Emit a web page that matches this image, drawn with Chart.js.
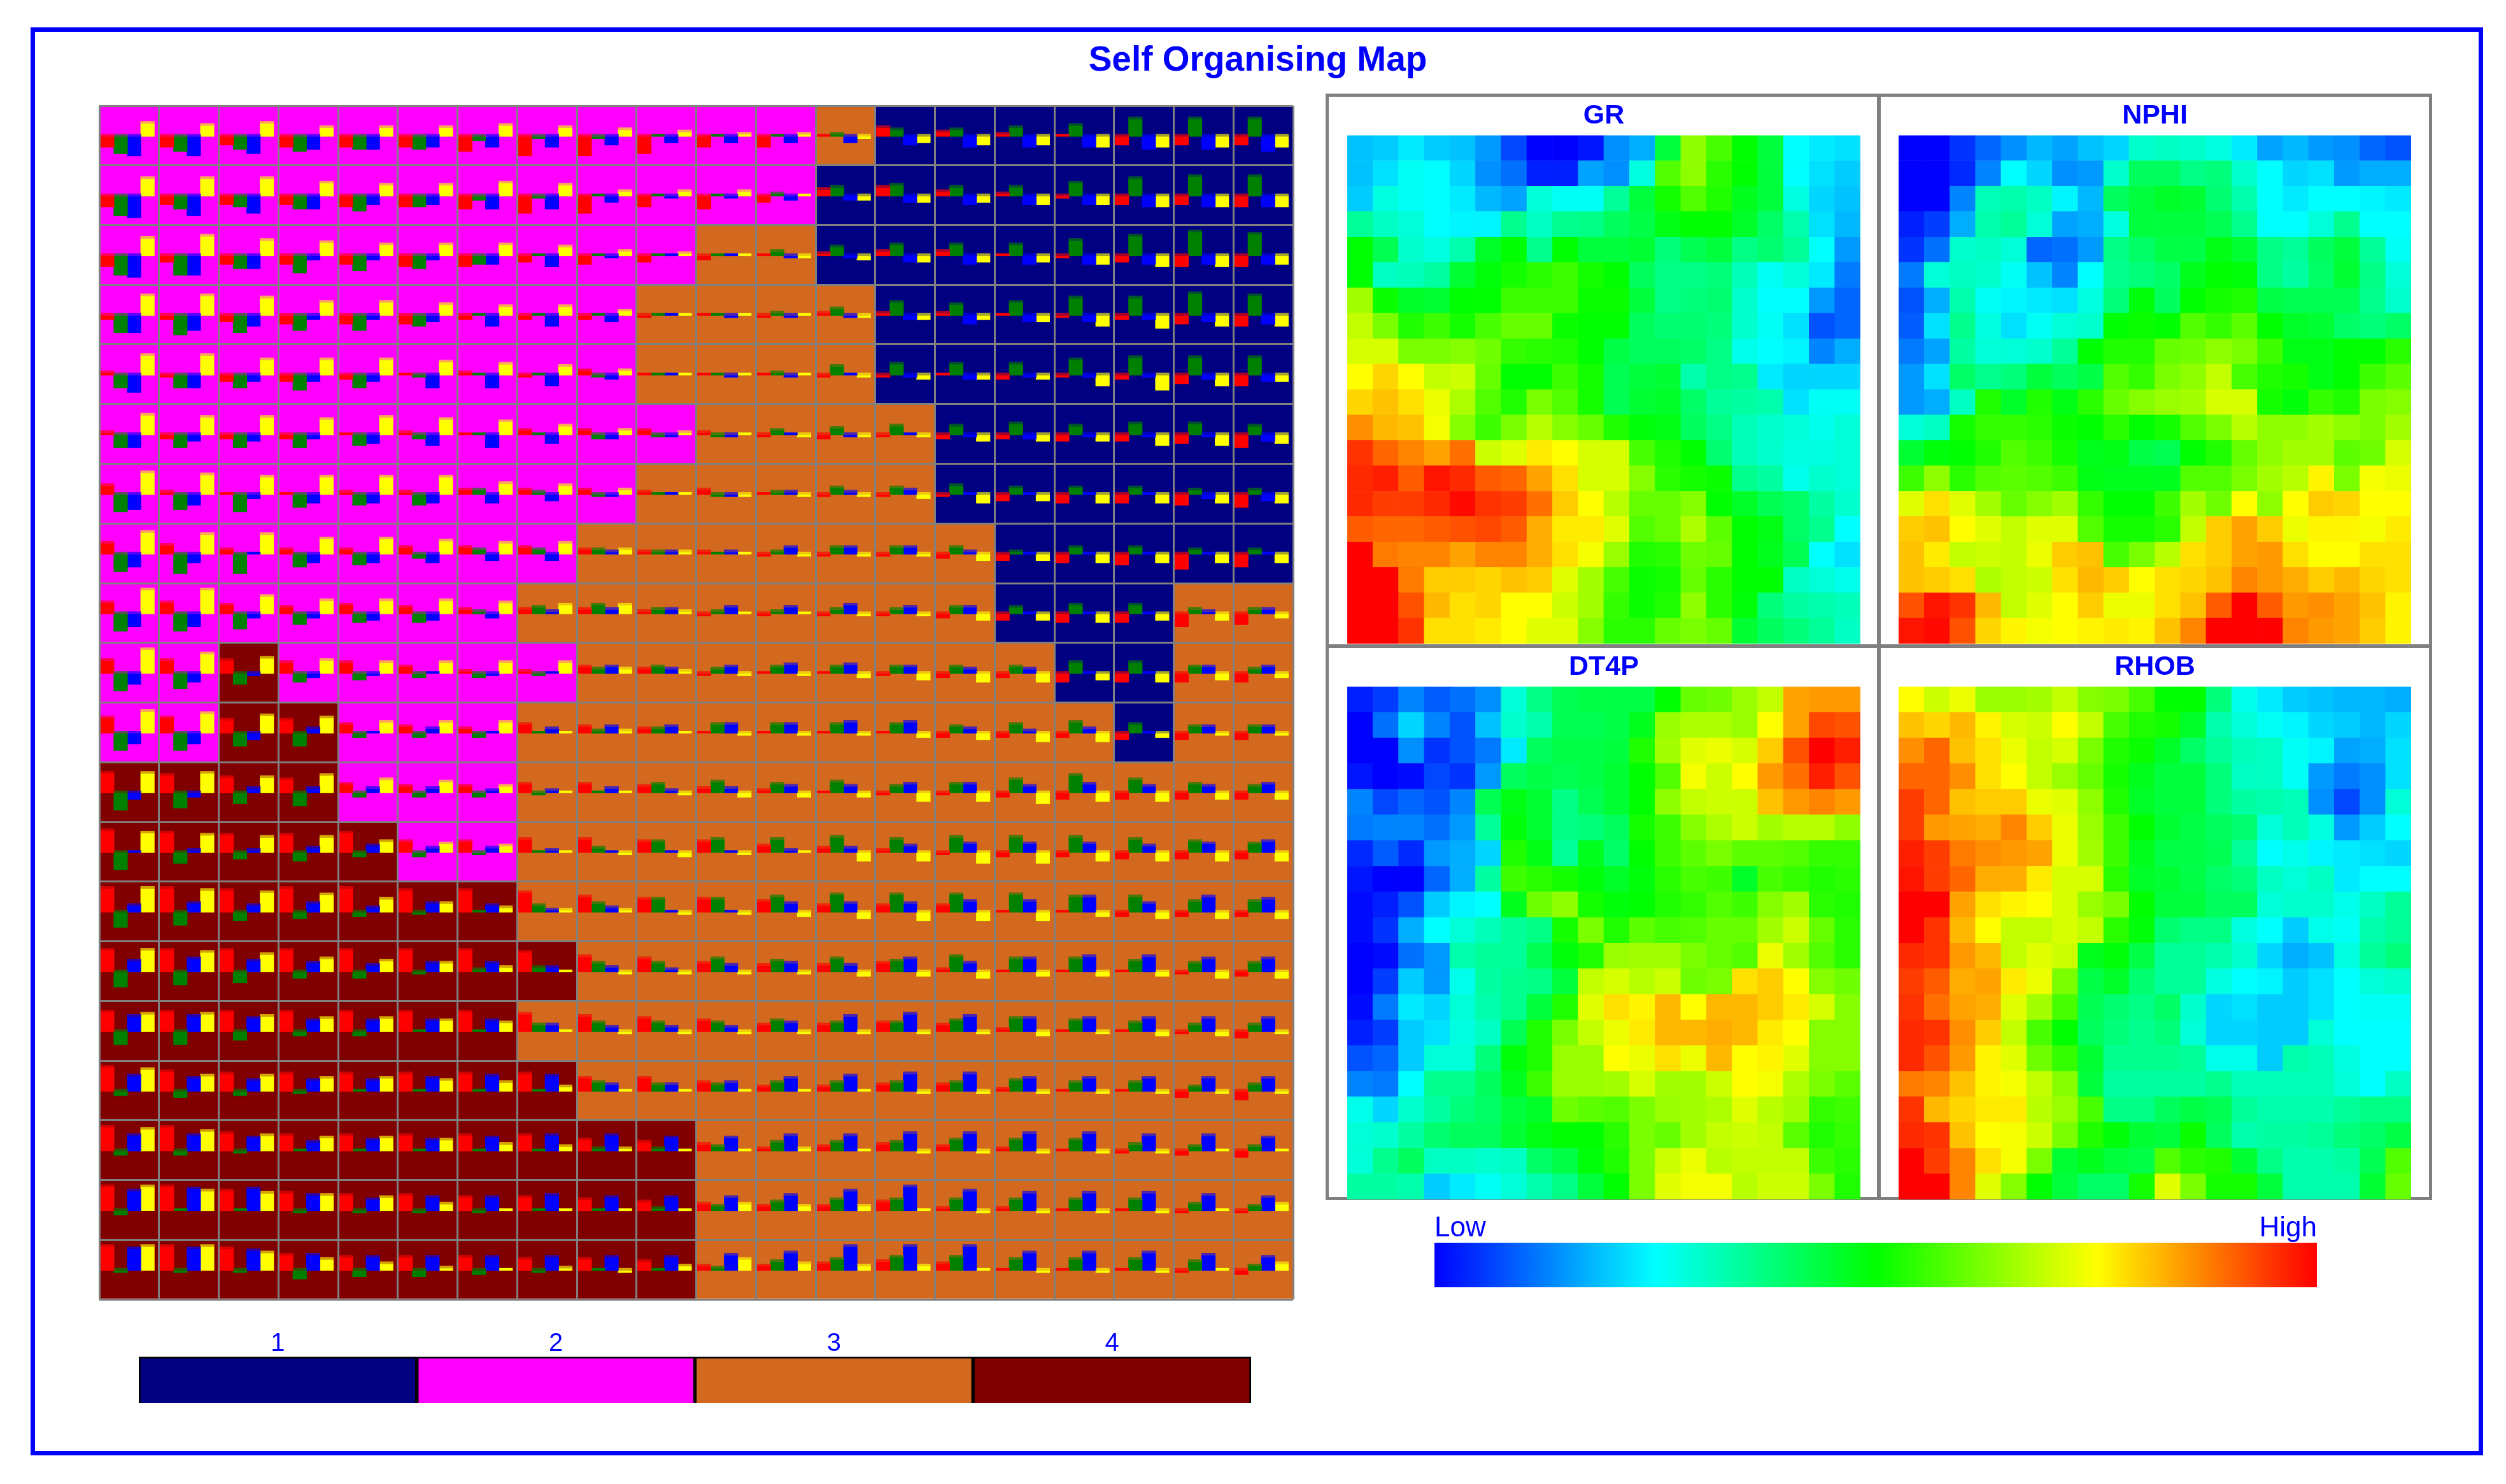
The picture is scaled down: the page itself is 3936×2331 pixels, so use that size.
<!DOCTYPE html>
<html>
<head>
<meta charset="utf-8">
<title>Self Organising Map</title>
<script src="https://cdn.jsdelivr.net/npm/chart.js@4"></script>
<style>
html, body { margin: 0; padding: 0; background: #fff; overflow: hidden; }
#page { position: relative; width: 3936px; height: 2331px; }
#page canvas { position: absolute; }
#frame { position: absolute; left: 48px; top: 43px; width: 3852px; height: 2243px; box-sizing: border-box; border: 7px solid #0000ff; }
#title { position: absolute; left: 48px; top: 60px; width: 3855px; text-align: center; color: #0000ff; font: bold 55px "Liberation Sans"; }
.panel { position: absolute; box-sizing: border-box; border: 5px solid #808080; }
</style>
</head>
<body>
<div id="page">
    <div id="frame"></div>
    <div id="title">Self Organising Map</div>
    <div class="panel" style="left:2082px;top:147px;width:872px;height:871px"></div>
    <div class="panel" style="left:2948px;top:147px;width:872px;height:871px"></div>
    <div class="panel" style="left:2082px;top:1012px;width:872px;height:873px"></div>
    <div class="panel" style="left:2948px;top:1012px;width:872px;height:873px"></div>
    <canvas id="mapa" width="1890" height="1890" style="left:150px;top:160px"></canvas>
    <canvas id="leyenda" width="1765" height="127" style="left:210px;top:2088px"></canvas>
    <canvas id="heatGR" width="866" height="867" style="left:2082px;top:148px"></canvas>
    <canvas id="heatNPHI" width="870" height="867" style="left:2948px;top:148px"></canvas>
    <canvas id="heatDT4P" width="866" height="870" style="left:2082px;top:1015px"></canvas>
    <canvas id="heatRHOB" width="870" height="870" style="left:2948px;top:1015px"></canvas>
    <canvas id="escala" width="1386" height="114" style="left:2253px;top:1908px"></canvas>
</div>
<script>
var clusterLabels = ['1', '2', '3', '4'];
var clusterColours = ['#000080', '#ff00ff', '#d2691e', '#800000'];
var clusterTints = ['rgba(0,0,128,0.35)', 'rgba(255,0,255,0.35)', 'rgba(210,105,30,0.35)', 'rgba(128,0,0,0.35)'];
var scaleLabels = ['Low', 'High'];
var scaleStops = ['#0000ff', '#00ffff', '#00ff00', '#ffff00', '#ff0000'];

// cluster of every map cell, top row first
var clusters = [
    [2,2,2,2,2,2,2,2,2,2,2,2,3,1,1,1,1,1,1,1],
    [2,2,2,2,2,2,2,2,2,2,2,2,1,1,1,1,1,1,1,1],
    [2,2,2,2,2,2,2,2,2,2,3,3,1,1,1,1,1,1,1,1],
    [2,2,2,2,2,2,2,2,2,3,3,3,3,1,1,1,1,1,1,1],
    [2,2,2,2,2,2,2,2,2,3,3,3,3,1,1,1,1,1,1,1],
    [2,2,2,2,2,2,2,2,2,2,3,3,3,3,1,1,1,1,1,1],
    [2,2,2,2,2,2,2,2,2,3,3,3,3,3,1,1,1,1,1,1],
    [2,2,2,2,2,2,2,2,3,3,3,3,3,3,3,1,1,1,1,1],
    [2,2,2,2,2,2,2,3,3,3,3,3,3,3,3,1,1,1,3,3],
    [2,2,4,2,2,2,2,2,3,3,3,3,3,3,3,3,1,1,3,3],
    [2,2,4,4,2,2,2,3,3,3,3,3,3,3,3,3,3,1,3,3],
    [4,4,4,4,2,2,2,3,3,3,3,3,3,3,3,3,3,3,3,3],
    [4,4,4,4,4,2,2,3,3,3,3,3,3,3,3,3,3,3,3,3],
    [4,4,4,4,4,4,4,3,3,3,3,3,3,3,3,3,3,3,3,3],
    [4,4,4,4,4,4,4,4,3,3,3,3,3,3,3,3,3,3,3,3],
    [4,4,4,4,4,4,4,3,3,3,3,3,3,3,3,3,3,3,3,3],
    [4,4,4,4,4,4,4,4,3,3,3,3,3,3,3,3,3,3,3,3],
    [4,4,4,4,4,4,4,4,4,4,3,3,3,3,3,3,3,3,3,3],
    [4,4,4,4,4,4,4,4,4,4,3,3,3,3,3,3,3,3,3,3],
    [4,4,4,4,4,4,4,4,4,4,3,3,3,3,3,3,3,3,3,3]
];

// small bars of every cell (GR, NPHI, DT4P, RHOB), plus is up, minus is down
var redBars = [
    [-6,-6,-5,-6,-6,-6,-8,-10,-10,-9,-6,-6,-1,5,3,2,-1,-5,-5,-5],
    [-6,-5,-5,-5,-6,-6,-7,-9,-9,-6,-7,-4,4,5,3,2,-2,-5,-5,-6],
    [-6,-4,-5,-5,-5,-6,-6,-4,-5,-4,-3,-1,2,3,3,-1,-2,-4,-6,-6],
    [-3,-3,-4,-5,-5,-5,-3,-3,-3,-2,-1,-2,2,2,2,-1,-2,-3,-5,-6],
    [2,-2,-4,-4,-3,-1,2,-2,3,-1,-1,-1,-2,-2,-1,-3,-2,-3,-5,-6],
    [2,-3,-3,-3,-1,2,-1,3,3,3,2,-2,-3,-2,-3,-3,-4,-4,-5,-7],
    [5,2,1,1,2,2,3,3,3,2,3,1,-2,-2,-2,-4,-5,-5,-6,-7],
    [6,5,3,3,3,4,4,4,3,2,2,-2,-2,-2,-3,-4,-5,-6,-8,-7],
    [6,6,5,4,5,4,3,3,3,2,-2,-2,-2,-2,-3,-4,-5,-5,-7,-6],
    [7,7,7,6,6,4,2,2,4,3,-2,-1,-1,-2,-3,-3,-5,-5,-5,-5],
    [8,8,7,7,5,4,3,5,4,3,1,1,1,1,-3,-3,-3,-4,-4,-4],
    [10,9,8,7,5,4,4,5,5,4,3,2,1,-2,-2,-3,-4,-4,-4,-4],
    [11,10,9,9,10,6,6,7,7,6,6,4,3,2,-2,-3,-3,-4,-4,-4],
    [12,12,11,12,12,11,11,10,8,7,7,6,4,4,4,-1,-1,-3,-3,-3],
    [11,11,11,11,11,11,11,10,8,7,5,4,4,5,2,1,-1,-1,-2,-3],
    [10,10,10,10,10,10,10,9,8,7,6,4,4,5,4,2,1,-1,-2,-4],
    [12,10,9,9,9,9,9,9,7,7,5,3,3,4,4,2,1,-1,-4,-5],
    [12,12,9,8,8,8,8,8,6,5,4,2,3,4,3,2,1,-2,-3,-4],
    [12,12,10,9,8,8,7,7,6,5,4,3,3,5,2,2,-1,-1,-2,-2],
    [12,12,11,8,7,7,7,6,6,5,3,3,4,5,4,1,1,-1,-2,-3]
];
var greenBars = [
    [-9,-8,-7,-8,-7,-7,-3,-2,-2,-1,-1,-1,2,4,4,5,6,9,9,9],
    [-10,-7,-6,-7,-8,-6,-3,-2,-1,-1,-1,2,5,6,5,5,7,9,10,10],
    [-10,-10,-7,-9,-8,-7,-5,-1,-1,-1,-1,3,5,6,6,6,8,10,12,11],
    [-9,-10,-9,-8,-8,-6,-1,-1,-1,-1,-1,2,4,7,6,7,9,9,11,10],
    [-7,-7,-7,-8,-7,-2,-1,-1,-2,-1,-1,2,5,6,6,6,8,9,9,9],
    [-7,-7,-7,-7,-6,-3,-1,-1,-3,-2,-2,3,4,5,5,6,5,6,6,5],
    [-9,-8,-9,-7,-6,-6,3,2,-2,-1,-2,2,4,4,5,4,4,4,3,3],
    [-9,-10,-10,-7,-6,-3,3,3,3,2,-1,2,4,4,4,2,4,4,3,3],
    [-9,-9,-8,-6,-5,-5,2,4,5,3,2,2,3,3,4,4,5,5,3,3],
    [-9,-8,-6,-5,-4,-3,-3,-2,3,4,3,4,4,4,4,4,6,6,4,3],
    [-9,-9,-7,-7,-3,-3,-3,1,2,3,5,5,5,5,4,5,6,5,4,4],
    [-9,-8,-6,-7,-3,-3,-3,-2,1,5,6,5,6,4,5,7,9,7,5,4],
    [-9,-6,-4,-5,-3,-3,-2,-1,3,6,7,7,8,7,8,8,8,7,6,5],
    [-8,-7,-5,-4,-3,-2,-1,4,5,7,7,8,9,9,9,9,8,8,6,6],
    [-8,-7,-6,-4,-4,-2,2,3,5,5,7,6,7,6,8,7,7,6,5,5],
    [-7,-7,-5,-3,-3,-1,-1,4,5,5,5,6,5,5,6,7,6,5,4,4],
    [-3,-4,-3,-2,-1,-1,-1,1,5,4,4,5,5,5,5,6,5,5,3,4],
    [-3,-3,-2,-1,-1,-1,-1,1,2,2,3,5,5,5,6,6,6,4,3,3],
    [-3,-1,-1,-2,-2,-2,-2,-1,1,2,3,5,6,6,6,6,6,6,4,3],
    [-2,-2,-2,-5,-4,-4,-3,-2,-1,1,2,5,6,7,7,6,6,6,5,3]
];
var blueBars = [
    [-10,-10,-9,-7,-7,-6,-6,-6,-5,-4,-4,-4,-4,-5,-6,-6,-6,-7,-7,-8],
    [-11,-10,-9,-7,-5,-5,-7,-7,-4,-2,-2,-3,-3,-4,-5,-5,-5,-6,-6,-6],
    [-11,-10,-7,-3,-3,-3,-5,-6,-2,-1,-1,-2,-2,-4,-5,-5,-5,-5,-5,-5],
    [-9,-8,-6,-3,-3,-4,-6,-6,-4,-1,-2,-2,-2,-3,-5,-4,-4,-3,-4,-5],
    [-9,-7,-4,-4,-4,-7,-7,-6,-3,-1,-2,-2,-1,-2,-3,-2,-2,-2,-3,-4],
    [-7,-4,-4,-3,-5,-6,-7,-5,-3,-2,-2,-1,-2,-1,-2,-3,-2,-2,-2,-4],
    [-8,-6,-3,-5,-5,-5,-5,-4,-2,-1,-2,2,2,3,-1,-1,-1,-1,-3,-4],
    [-7,-5,-1,-5,-5,-5,-4,-4,2,2,2,4,4,4,2,-1,-1,-1,-1,-1],
    [-7,-7,-3,-3,-4,-4,-3,2,3,3,4,4,5,4,4,-1,-1,-1,2,3],
    [-6,-5,-2,-3,-2,-1,-2,-1,4,3,4,5,5,4,3,3,-1,-1,4,4],
    [-6,-6,-4,3,-1,3,-1,3,4,4,5,5,6,6,3,2,3,1,4,4],
    [-4,-3,3,3,3,3,2,2,3,2,3,4,4,5,5,4,5,4,4,5],
    [-1,2,2,3,4,3,3,2,1,1,1,2,3,4,5,5,5,4,5,6],
    [4,5,4,5,3,5,4,2,3,1,1,5,5,5,6,6,8,5,8,7],
    [6,7,6,5,4,5,5,3,3,2,4,5,4,7,5,7,8,8,7,7],
    [8,8,7,6,6,6,6,4,3,3,3,5,8,9,8,7,7,7,7,7],
    [8,7,6,6,6,7,8,8,4,4,5,7,8,9,9,7,7,7,7,7],
    [8,8,7,5,6,6,7,8,8,7,7,8,8,9,9,9,9,8,8,7],
    [10,11,11,8,6,7,7,8,7,7,7,8,10,12,10,9,9,9,8,7],
    [11,11,10,8,7,7,7,7,7,7,8,9,12,12,12,9,9,9,8,7]
];
var yellowBars = [
    [7,6,7,5,5,5,6,5,4,3,2,2,-2,-4,-5,-5,-6,-6,-6,-6],
    [9,9,9,7,6,6,7,6,3,3,3,-1,-3,-4,-4,-5,-5,-6,-6,-6],
    [9,10,8,7,6,6,6,5,3,2,-1,-2,-3,-4,-4,-4,-5,-6,-6,-5],
    [10,10,9,7,7,6,5,5,3,-1,-1,-1,-2,-3,-3,-4,-6,-7,-6,-6],
    [10,10,8,8,8,7,6,5,3,-1,-1,-1,-2,-3,-3,-3,-6,-8,-6,-4],
    [10,9,9,8,9,8,7,5,3,2,-1,-2,-2,-2,-4,-4,-4,-6,-6,-5],
    [11,10,9,9,9,9,6,5,3,-1,-2,-2,-2,-3,-5,-4,-5,-5,-5,-5],
    [11,10,10,8,8,7,6,6,3,2,-1,-2,-2,-2,-4,-4,-5,-5,-5,-5],
    [12,12,9,7,7,7,6,5,5,2,1,1,-2,-2,-4,-4,-5,-4,-4,-3],
    [12,10,8,7,6,6,6,6,3,2,-2,-2,-3,-4,-5,-5,-4,-5,-4,-3],
    [11,10,9,8,6,6,6,1,2,1,-2,-2,-2,-3,-4,-5,-5,-3,-2,-2],
    [10,10,8,9,7,6,4,1,1,-2,-3,-3,-3,-5,-5,-6,-5,-5,-4,-4],
    [10,9,8,8,6,5,4,1,-2,-3,-2,-1,-5,-5,-6,-6,-5,-5,-5,-5],
    [12,11,10,9,7,5,3,2,2,-2,-2,-3,-4,-5,-5,-5,-3,-4,-4,-4],
    [11,10,9,7,6,5,3,1,-2,-2,-2,-2,-3,-3,-4,-3,-3,-3,-4,-4],
    [9,9,8,7,7,6,5,1,-2,-2,-2,-2,-2,-2,-2,-3,-2,-3,-3,-2],
    [11,8,8,7,7,6,5,3,-1,-1,-1,-1,-1,-2,-2,-2,-2,-2,-2,-2],
    [11,10,8,7,7,6,4,3,2,1,1,2,-1,-2,-2,-2,-2,-2,-1,-1],
    [12,10,9,8,7,4,1,1,1,1,4,3,3,1,-2,-2,-2,-2,-1,4],
    [12,12,9,6,4,2,1,2,-2,3,6,4,3,3,1,-2,-2,-2,1,4]
];

// heat maps, 0 is Low and 100 is High
var grHeat = [
    [19,20,23,20,19,15,7,0,0,2,14,17,44,64,57,50,44,25,23,22],
    [19,22,26,25,21,14,11,3,3,16,14,28,58,64,54,50,44,25,22,20],
    [20,28,26,25,23,18,16,29,26,26,35,44,52,58,53,47,44,28,21,19],
    [35,31,29,25,24,24,36,31,36,37,41,43,48,50,50,46,40,33,22,18],
    [50,42,30,28,33,46,50,36,50,44,44,45,38,42,44,37,39,35,25,15],
    [50,31,32,34,45,49,52,54,56,52,50,41,37,37,38,32,26,29,23,12],
    [66,51,46,45,50,50,56,56,56,51,51,44,37,38,39,30,25,25,15,10],
    [69,62,53,56,52,57,60,60,51,50,50,41,39,39,38,30,26,22,8,10],
    [71,71,62,62,63,61,55,54,53,50,43,41,41,40,37,27,25,24,13,17],
    [75,79,75,69,70,60,50,50,56,52,42,44,45,33,37,36,23,21,21,21],
    [79,81,78,73,67,58,53,62,58,52,42,45,46,40,35,34,33,22,26,26],
    [86,82,81,74,63,56,62,68,63,60,53,49,48,41,37,32,30,29,27,29],
    [95,90,87,84,89,70,72,77,75,71,71,57,53,50,39,32,30,28,28,29],
    [96,97,91,98,96,91,90,84,78,71,71,63,54,52,51,36,34,27,30,29],
    [96,94,94,96,99,95,94,89,80,75,68,60,60,63,50,46,42,40,34,30],
    [91,90,90,91,92,93,91,83,77,77,72,58,60,67,59,50,48,40,36,25],
    [100,88,87,87,84,87,87,83,78,74,65,53,54,61,60,50,47,42,25,22],
    [100,100,88,80,80,79,81,80,72,66,57,51,52,60,54,50,50,31,29,27],
    [100,100,92,82,78,79,75,75,70,66,55,51,53,64,54,49,38,34,33,32],
    [100,100,95,78,78,77,75,72,72,63,54,54,60,62,60,45,41,38,35,31]
];
var nphiHeat = [
    [0,0,5,10,14,18,16,19,21,30,31,30,28,23,16,18,15,14,10,8],
    [0,0,4,13,25,21,14,15,30,41,41,37,38,30,25,21,22,15,17,17],
    [0,0,13,32,33,31,24,18,41,44,46,45,39,33,25,23,25,25,24,23],
    [3,6,17,33,35,29,16,17,28,44,44,44,42,36,25,25,29,36,25,25],
    [5,11,30,31,29,10,11,15,37,40,43,43,48,45,37,35,41,44,35,26],
    [12,29,31,30,26,19,13,25,36,38,40,47,50,49,37,34,40,45,37,29],
    [8,17,33,26,24,23,22,28,38,49,41,50,52,53,43,42,42,42,36,30],
    [9,22,36,28,22,26,29,30,50,51,50,58,55,59,50,46,45,40,38,40],
    [12,16,34,29,29,30,35,50,53,53,60,61,64,62,56,48,48,50,50,54],
    [15,22,40,36,38,44,41,43,58,55,62,64,69,57,53,52,48,50,56,59],
    [15,17,31,53,46,53,48,54,60,63,65,66,71,71,52,49,55,53,62,63],
    [29,31,52,55,55,54,51,50,54,50,52,58,62,68,64,64,66,64,62,66],
    [45,49,50,53,58,56,52,47,48,43,42,50,53,60,64,66,66,59,61,71],
    [56,64,54,58,59,58,56,48,47,47,47,58,58,62,66,68,76,62,74,73],
    [72,78,72,66,60,63,66,55,50,50,56,66,61,75,64,75,80,79,75,75],
    [80,81,75,72,69,72,72,58,52,52,54,69,80,84,80,73,76,76,74,77],
    [81,77,69,70,69,73,80,81,57,62,68,78,80,84,85,78,75,75,78,78],
    [81,80,78,67,69,70,78,82,80,75,78,79,81,87,85,83,80,82,79,78],
    [92,98,95,82,69,72,75,80,73,73,78,81,91,100,91,85,86,84,81,76],
    [98,99,92,79,76,74,75,76,77,76,81,87,100,100,100,87,85,84,80,76]
];
var dt4pHeat = [
    [3,6,13,9,11,14,29,37,42,43,43,43,50,60,61,65,69,84,85,85],
    [0,11,21,13,8,19,30,33,42,42,43,47,65,67,67,65,75,84,93,92],
    [0,0,14,5,8,12,23,41,43,43,44,53,66,72,73,71,80,92,100,97],
    [2,0,1,7,5,15,41,43,42,43,45,50,58,74,70,75,85,89,97,92],
    [13,7,10,8,13,42,48,45,37,42,45,50,64,69,70,70,81,85,87,85],
    [12,13,13,11,15,35,49,45,37,38,41,52,56,63,67,70,66,68,68,64],
    [4,9,4,15,17,21,53,48,35,47,40,50,56,59,62,59,59,58,55,55],
    [2,0,0,10,17,34,56,54,52,49,46,49,54,57,56,46,57,55,53,54],
    [1,3,8,20,24,25,47,61,64,52,49,50,53,55,58,56,63,66,54,53],
    [1,5,17,25,29,32,35,37,52,62,53,59,57,58,60,60,66,70,60,54],
    [0,1,11,15,33,35,35,42,49,53,65,66,66,62,60,58,73,66,58,54],
    [0,6,20,15,27,34,36,37,44,69,71,68,70,61,62,78,80,75,63,61],
    [1,12,23,21,29,33,36,44,53,72,78,76,82,75,82,82,80,77,71,63],
    [3,6,20,22,28,31,42,53,62,69,73,77,82,82,83,82,77,75,63,63],
    [8,10,20,29,29,38,49,53,65,65,75,73,78,73,82,75,76,72,63,63],
    [13,12,25,36,36,41,47,56,65,65,66,71,66,66,70,75,74,67,62,59],
    [27,21,30,34,38,40,44,46,61,59,58,62,65,66,67,72,68,66,55,56],
    [29,30,34,39,41,41,45,48,50,50,54,62,60,66,69,70,69,59,53,55],
    [29,36,41,31,31,30,31,40,43,49,53,62,70,73,68,69,69,69,56,54],
    [34,34,33,20,23,26,29,33,37,44,50,62,72,74,74,68,70,70,62,53]
];
var rhobHeat = [
    [75,70,73,65,65,66,69,63,62,57,50,50,38,27,23,20,19,18,18,17],
    [81,79,82,76,71,70,75,69,57,53,52,46,33,29,26,24,21,20,18,21],
    [86,90,81,78,73,69,71,62,53,51,46,40,35,32,31,26,24,16,17,22],
    [90,90,86,78,75,69,65,60,52,47,44,44,38,31,31,26,15,12,14,22],
    [94,90,81,80,80,73,72,64,53,46,44,44,38,34,33,32,14,7,14,29],
    [94,85,84,83,87,80,73,65,56,50,45,43,41,39,29,32,28,15,20,25],
    [97,94,88,86,85,84,73,66,56,47,43,43,42,35,25,27,24,23,22,21],
    [98,94,90,83,83,77,71,71,54,46,45,43,40,38,31,29,31,23,25,25],
    [100,100,84,78,76,75,71,65,62,50,44,44,41,41,29,30,30,27,31,35],
    [100,95,82,75,69,69,71,69,54,49,39,37,37,28,25,20,27,26,33,35],
    [96,95,85,82,69,72,70,47,49,43,35,35,33,30,21,17,19,28,35,38],
    [94,91,83,84,77,73,62,43,46,39,35,35,28,25,24,20,22,25,29,30],
    [95,89,84,83,72,66,57,42,39,37,40,30,21,22,20,20,22,25,26,26],
    [96,95,86,80,69,57,50,41,38,36,38,29,21,21,20,20,29,25,25,25],
    [96,92,85,76,72,61,55,45,36,36,36,35,27,27,20,33,32,28,25,25],
    [88,87,81,76,74,69,63,44,34,34,34,34,36,32,32,32,32,29,25,31],
    [95,82,79,77,77,68,65,57,37,37,41,43,42,35,33,33,33,35,37,37],
    [96,95,81,75,74,70,62,53,49,45,44,51,41,33,34,34,35,38,40,43],
    [100,94,87,78,74,62,45,47,44,43,58,54,53,45,37,33,33,34,42,58],
    [100,100,87,72,63,50,44,40,40,52,72,62,52,52,44,33,33,33,45,60]
];

var azul = '#0000ff';
var gris = '#808080';
var fontTexto = 'Liberation Sans';
var filas = clusters.length;
var columnas = clusters[0].length;

Chart.defaults.animation = false;
Chart.defaults.responsive = false;
Chart.defaults.devicePixelRatio = 1;
Chart.defaults.events = [];
Chart.defaults.plugins.legend.display = false;
Chart.defaults.plugins.tooltip.enabled = false;

// mapa principal
var unidadBarra = 0.03625;   // height of one bar step, in cells
var alturaBase = 0.485;      // bar baseline inside a cell
var anchoCelda = 93.8;
var anchoBarra = 21.5;

function celdas() {
    var data = [];
    var colores = [];
    clusters.forEach(function(fila, r) {
        fila.forEach(function(c, col) {
            data.push({ x: col + 0.5, y: [filas - r - 1, filas - r] });
            colores.push(clusterColours[c - 1]);
        });
    });
    return { data: data, backgroundColor: colores, barThickness: anchoCelda + 1, grouped: false, order: 6 };
}

function barras(valores, color, posicion, orden) {
    var data = [];
    valores.forEach(function(fila, r) {
        fila.forEach(function(v, col) {
            var base = filas - r - 1 + alturaBase;
            if (v < 0) { base = base + unidadBarra; }
            data.push({ x: col + posicion, y: [base, base + v * unidadBarra] });
        });
    });
    return { data: data, backgroundColor: color, barThickness: anchoBarra, grouped: false, order: orden };
}

// top step of each bar, faded a bit into the cell colour
function puntas(valores, posicion) {
    var data = [];
    var colores = [];
    valores.forEach(function(fila, r) {
        fila.forEach(function(v, col) {
            if (Math.abs(v) < 2) { return; }
            var base = filas - r - 1 + alturaBase;
            var tope = v > 0 ? base + v * unidadBarra : base + unidadBarra;
            data.push({ x: col + posicion, y: [tope - unidadBarra, tope] });
            colores.push(clusterTints[clusters[r][col] - 1]);
        });
    });
    return { data: data, backgroundColor: colores, barThickness: anchoBarra, grouped: false, order: 0 };
}

new Chart(document.getElementById('mapa'), {
    type: 'bar',
    data: {
        datasets: [
            celdas(),
            barras(redBars, '#ff0000', 0.1325, 1),
            barras(greenBars, '#008000', 0.3575, 2),
            barras(blueBars, '#0000ff', 0.5825, 3),
            barras(yellowBars, '#ffff00', 0.8075, 4),
            puntas(redBars, 0.1325),
            puntas(greenBars, 0.3575),
            puntas(blueBars, 0.5825),
            puntas(yellowBars, 0.8075)
        ]
    },
    options: {
        layout: { padding: { left: 6, top: 6, right: 9, bottom: 9 } },
        scales: {
            x: {
                type: 'linear', min: 0, max: columnas, offset: false,
                ticks: { display: false, stepSize: 1 },
                border: { display: false },
                grid: { offset: false, z: 1, color: gris, lineWidth: 3, drawTicks: false }
            },
            y: {
                type: 'linear', min: 0, max: filas,
                ticks: { display: false, stepSize: 1 },
                border: { display: false },
                grid: { z: 1, color: gris, lineWidth: 3, drawTicks: false }
            }
        }
    }
});

// leyenda de clusters
new Chart(document.getElementById('leyenda'), {
    type: 'bar',
    data: {
        labels: clusterLabels,
        datasets: [{
            data: clusterLabels.map(function() { return 1; }),
            backgroundColor: clusterColours,
            borderColor: '#000000',
            borderWidth: 3,
            barPercentage: 1,
            categoryPercentage: 1
        }]
    },
    options: {
        layout: { padding: { left: 8, right: 10, top: 3, bottom: 11 } },
        scales: {
            x: {
                position: 'top',
                grid: { display: false, drawTicks: false },
                border: { display: false },
                ticks: { color: azul, padding: 0, font: { family: fontTexto, size: 40, lineHeight: 1 } }
            },
            y: { display: false, min: 0, max: 1 }
        }
    }
});

// color de un valor de 0 a 100
function colorHeat(v) {
    var tramos = [[0, 0, 255], [0, 255, 255], [0, 255, 0], [255, 255, 0], [255, 0, 0]];
    var t = Math.min(v / 25, 3.999);
    var i = Math.floor(t);
    var f = t - i;
    var rgb = tramos[i].map(function(c, k) { return Math.round(c + (tramos[i + 1][k] - c) * f); });
    return 'rgb(' + rgb.join(',') + ')';
}

function heatmap(id, titulo, matriz, izq, der, abajo, arriba) {
    var labels = matriz[0].map(function(v, i) { return i + 1; });
    // la fila de abajo va primero en la pila
    var datasets = matriz.slice().reverse().map(function(fila) {
        return {
            data: fila.map(function() { return 1; }),
            backgroundColor: fila.map(colorHeat),
            barPercentage: 1,
            categoryPercentage: 1
        };
    });
    return new Chart(document.getElementById(id), {
        type: 'bar',
        data: { labels: labels, datasets: datasets },
        options: {
            layout: { padding: { left: izq, right: der, top: 0, bottom: abajo } },
            plugins: {
                title: {
                    display: true,
                    text: titulo,
                    color: azul,
                    font: { family: fontTexto, size: 43, weight: 'bold' },
                    padding: { top: arriba, bottom: 5 }
                }
            },
            scales: {
                x: { display: false, stacked: true },
                y: { display: false, stacked: true, min: 0, max: matriz.length }
            }
        }
    });
}

heatmap('heatGR', 'GR', grHeat, 34, 26, 4, 8);
heatmap('heatNPHI', 'NPHI', nphiHeat, 34, 31, 4, 8);
heatmap('heatDT4P', 'DT4P', dt4pHeat, 34, 26, 1, 7);
heatmap('heatRHOB', 'RHOB', rhobHeat, 34, 31, 1, 7);

// barra de color Low - High
new Chart(document.getElementById('escala'), {
    type: 'bar',
    data: {
        labels: [''],
        datasets: [{
            data: [100],
            barPercentage: 1,
            categoryPercentage: 1,
            backgroundColor: function(context) {
                var area = context.chart.chartArea;
                if (!area) { return azul; }
                var g = context.chart.ctx.createLinearGradient(area.left, 0, area.right, 0);
                scaleStops.forEach(function(c, i) { g.addColorStop(i / (scaleStops.length - 1), c); });
                return g;
            }
        }]
    },
    options: {
        indexAxis: 'y',
        scales: {
            x: {
                position: 'top',
                type: 'linear', min: 0, max: 100,
                grid: { display: false, drawTicks: false },
                border: { display: false },
                ticks: {
                    stepSize: 100,
                    align: 'inner',
                    maxRotation: 0,
                    color: azul,
                    padding: 0,
                    font: { family: fontTexto, size: 44, lineHeight: 1 },
                    callback: function(value) { return value === 0 ? scaleLabels[0] : scaleLabels[1]; }
                }
            },
            y: { display: false }
        }
    }
});
</script>
</body>
</html>
